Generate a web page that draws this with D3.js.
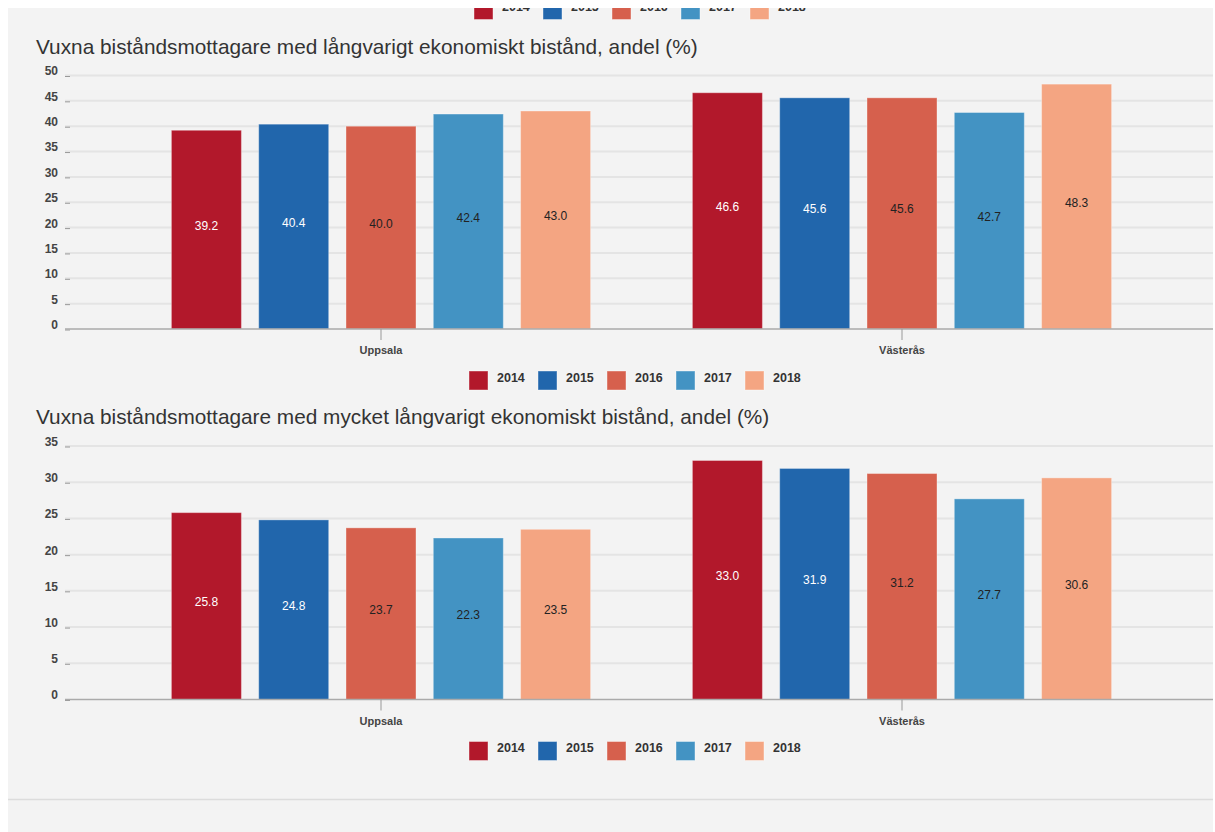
<!DOCTYPE html>
<html>
<head>
<meta charset="utf-8">
<script src="https://cdn.jsdelivr.net/npm/d3@7"></script>
<style>
  html, body { margin: 0; padding: 0; background: #fff; }
  svg { display: block; font-family: "Liberation Sans", Arial, sans-serif; }
</style>
</head>
<body>
<svg id="chart" width="1215" height="832"></svg>
<script>
const years = ['2014', '2015', '2016', '2017', '2018'];
const colors = ['#b2182b', '#2166ac', '#d6604d', '#4393c3', '#f4a582'];
const labelColors = ['#fff', '#fff', '#222', '#222', '#222'];
const kommuner = ['Uppsala', 'Västerås'];

const titleLong = 'Vuxna biståndsmottagare med långvarigt ekonomiskt bistånd, andel (%)';
const longUppsala = [39.2, 40.4, 40.0, 42.4, 43.0];
const longVasteras = [46.6, 45.6, 45.6, 42.7, 48.3];
const ticksLong = [0, 5, 10, 15, 20, 25, 30, 35, 40, 45, 50];

const titleVeryLong = 'Vuxna biståndsmottagare med mycket långvarigt ekonomiskt bistånd, andel (%)';
const veryLongUppsala = [25.8, 24.8, 23.7, 22.3, 23.5];
const veryLongVasteras = [33.0, 31.9, 31.2, 27.7, 30.6];
const ticksVeryLong = [0, 5, 10, 15, 20, 25, 30, 35];

const svg = d3.select('#chart');

// grey panel
svg.append('rect').attr('x', 8).attr('y', 8).attr('width', 1205).attr('height', 824).attr('fill', '#f3f3f3');
svg.append('line').attr('x1', 8).attr('x2', 1213).attr('y1', 799.5).attr('y2', 799.5)
  .attr('stroke', '#dcdcdc').attr('stroke-width', 1.5);

const color = d3.scaleOrdinal().domain(years).range(colors);
const textColor = d3.scaleOrdinal().domain(years).range(labelColors);

function legend(top, left) {
  const g = svg.append('g').attr('transform', `translate(${left},${top})`);
  const item = g.selectAll('g').data(years).join('g')
    .attr('transform', (d, i) => `translate(${i * 69},0)`);
  item.append('rect').attr('width', 19).attr('height', 19)
    .attr('fill', (d) => color(d)).attr('stroke', 'rgba(255,255,255,0.4)').attr('stroke-width', 1);
  item.append('text').attr('x', 28).attr('y', 10.5)
    .attr('font-size', 12.5).attr('font-weight', 'bold').attr('fill', '#333').text((d) => d);
}

function drawChart(top, title, seriesA, seriesB, ticks) {
  const plotLeft = 65, plotRight = 1213;
  const y0 = top + 253.5, y1 = top;

  svg.append('text').attr('x', 36).attr('y', top - 22)
    .attr('font-size', 20.8).attr('fill', '#333').text(title);

  const y = d3.scaleLinear().domain([0, d3.max(ticks)]).range([y0, y1]);
  const x = d3.scaleBand().domain(kommuner).range([120.5, 1162.5]);
  const xi = d3.scaleBand().domain(years).range([0, x.bandwidth()])
    .paddingInner(0.198).paddingOuter(0.583);

  // gridlines
  svg.append('g').selectAll('line').data(ticks.filter((t) => t > 0)).join('line')
    .attr('x1', plotLeft).attr('x2', plotRight)
    .attr('y1', (d) => y(d)).attr('y2', (d) => y(d))
    .attr('stroke', '#e4e4e4').attr('stroke-width', 2);

  const yAxis = svg.append('g').attr('transform', `translate(70,0)`)
    .call(d3.axisLeft(y).tickValues(ticks).tickSize(5).tickPadding(7));
  yAxis.select('.domain').remove();
  yAxis.selectAll('.tick line').attr('stroke', '#999').attr('transform', 'translate(0,0.5)');
  yAxis.selectAll('.tick text').attr('font-size', 12).attr('font-weight', 'bold')
    .attr('fill', '#444').attr('font-family', '"Liberation Sans", Arial, sans-serif')
    .attr('dy', '-0.05em');

  const rows = kommuner.map((k, ki) => ({ k, values: ki === 0 ? seriesA : seriesB }));
  const groups = svg.append('g').selectAll('g').data(rows).join('g')
    .attr('transform', (d) => `translate(${x(d.k)},0)`);

  const bars = groups.selectAll('g').data((d) => d.values.map((v, i) => ({ year: years[i], v }))).join('g');
  bars.append('rect')
    .attr('x', (d) => xi(d.year)).attr('width', xi.bandwidth())
    .attr('y', (d) => y(d.v)).attr('height', (d) => y(0) - y(d.v))
    .attr('fill', (d) => color(d.year))
    .attr('stroke', 'rgba(255,255,255,0.35)').attr('stroke-width', 1);
  bars.append('text')
    .attr('x', (d) => xi(d.year) + xi.bandwidth() / 2)
    .attr('y', (d) => (y(d.v) + y(0)) / 2)
    .attr('text-anchor', 'middle').attr('font-size', 12)
    .attr('fill', (d) => textColor(d.year)).text((d) => d.v.toFixed(1));

  // baseline
  svg.append('line').attr('x1', plotLeft).attr('x2', plotRight)
    .attr('y1', y(0)).attr('y2', y(0)).attr('stroke', '#aaa').attr('stroke-width', 1.5);

  const xAxis = svg.append('g').selectAll('g').data(kommuner).join('g')
    .attr('transform', (d) => `translate(${x(d) + x.bandwidth() / 2},${y(0)})`);
  xAxis.append('line').attr('y1', 0).attr('y2', 11).attr('stroke', '#999');
  xAxis.append('text').attr('y', 25).attr('text-anchor', 'middle')
    .attr('font-size', 11).attr('font-weight', 'bold').attr('fill', '#444').text((d) => d);

  legend(y(0) + 42, 469);
}

// legend of the chart above, scrolled mostly out of view
legend(0.5, 474);
svg.append('rect').attr('x', 0).attr('y', 0).attr('width', 1215).attr('height', 8).attr('fill', '#fff');

drawChart(75.5, titleLong, longUppsala, longVasteras, ticksLong);
drawChart(446, titleVeryLong, veryLongUppsala, veryLongVasteras, ticksVeryLong);
</script>
</body>
</html>
